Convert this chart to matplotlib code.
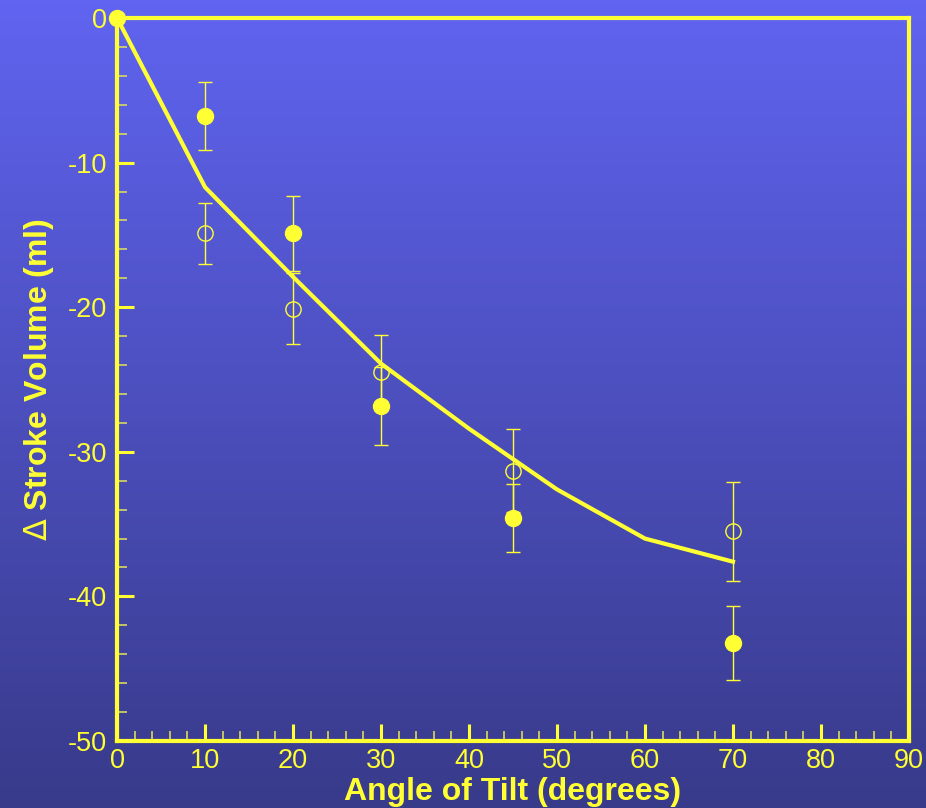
import numpy as np
import matplotlib
matplotlib.use("Agg")
import matplotlib.pyplot as plt
from matplotlib.ticker import MultipleLocator

plt.rcParams['axes.unicode_minus'] = False
plt.rcParams['mathtext.fontset'] = 'dejavusans'

# data
angle_fit = [0, 10, 20, 30, 40, 50, 60, 70]
sv_fit = [0, -11.7, -17.9, -23.9, -28.4, -32.6, -36.0, -37.6]

angle_filled = [0, 10, 20, 30, 45, 70]
sv_filled = [0, -6.8, -14.9, -26.8, -34.6, -43.2]
err_filled = [0, 2.35, 2.6, 2.7, 2.35, 2.55]

angle_open = [10, 20, 30, 45, 70]
sv_open = [-14.9, -20.1, -24.5, -31.3, -35.5]
err_open = [2.1, 2.45, 2.6, 2.85, 3.4]

YEL = '#FFFF33'
fnt = ['Liberation Sans', 'DejaVu Sans']

fig = plt.figure(figsize=(9.26, 8.08), dpi=100)

# gradient background
bg = fig.add_axes([0, 0, 1, 1], zorder=-10)
top = np.array([96, 100, 240]) / 255
bot = np.array([56, 58, 138]) / 255
t = np.linspace(0, 1, 256)[:, None]
grad = top[None, :] * (1 - t) + bot[None, :] * t
bg.imshow(grad[:, None, :], aspect='auto', extent=[0, 1, 0, 1])
bg.axis('off')

ax = fig.add_axes([0.1264, 0.0829, 0.8552, 0.8948])
ax.patch.set_alpha(0)

ax.plot(angle_fit, sv_fit, color=YEL, lw=3, zorder=3, clip_on=False)
ax.errorbar(angle_filled, sv_filled, yerr=err_filled, fmt='o', color=YEL,
            ms=11.5, ecolor=YEL, elinewidth=1, capsize=5, capthick=1,
            zorder=4, clip_on=False)
ax.errorbar(angle_open, sv_open, yerr=err_open, fmt='o', mfc='none', mec=YEL,
            mew=1, ms=11, ecolor=YEL, elinewidth=1, capsize=5, capthick=1,
            zorder=4)

ax.set_xlim(0, 90)
ax.set_ylim(-50, 0)
ax.xaxis.set_major_locator(MultipleLocator(10))
ax.xaxis.set_minor_locator(MultipleLocator(2))
ax.yaxis.set_major_locator(MultipleLocator(10))
ax.yaxis.set_minor_locator(MultipleLocator(2))

for s in ax.spines.values():
    s.set_color(YEL)
    s.set_linewidth(3)

ax.tick_params(which='major', direction='in', length=12, width=2.2,
               color=YEL, labelcolor=YEL, labelsize=19.5,
               top=False, right=False)
ax.tick_params(axis='x', which='major', pad=5)
ax.tick_params(axis='y', which='major', pad=7.5)
ax.tick_params(which='minor', direction='in', length=7, width=1.2,
               color='#D8D860', top=False, right=False)
for lab in ax.get_xticklabels() + ax.get_yticklabels():
    lab.set_family(fnt)

ax.set_xlabel('Angle of Tilt (degrees)', color=YEL, fontsize=23,
              fontweight='bold', family=fnt, labelpad=2)
ax.set_ylabel('$\\Delta$ Stroke Volume (ml)', color=YEL, fontsize=23,
              fontweight='bold', family=fnt, labelpad=8)

fig.savefig('out.png', dpi=100)
